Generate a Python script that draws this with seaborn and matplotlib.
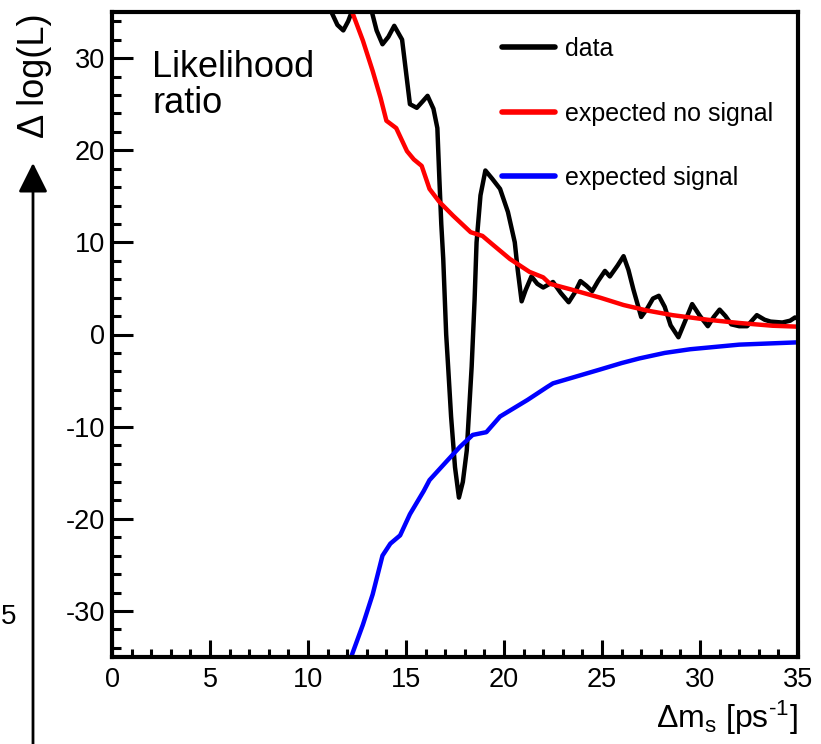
import matplotlib
matplotlib.use("Agg")
import matplotlib.pyplot as plt
from matplotlib.ticker import MultipleLocator
import seaborn as sns
import pandas as pd

# ---- data ----
data_x = [10.5, 11.15, 11.5, 11.8, 12.05, 12.3, 12.8, 13.2, 13.5, 13.8, 14.1, 14.4, 14.8,
          15.0, 15.2, 15.55, 15.85, 16.1, 16.4, 16.6, 16.7, 16.8, 16.9, 17.05, 17.15, 17.3,
          17.5, 17.7, 17.9, 18.1, 18.35, 18.5, 18.6, 18.8, 19.05, 19.4, 19.8, 20.2, 20.55,
          20.7, 20.9, 21.1, 21.4, 21.7, 22.0, 22.5, 22.9, 23.3, 23.6, 23.9, 24.2, 24.5, 24.8,
          25.15, 25.4, 25.8, 26.1, 26.35, 26.6, 27.0, 27.3, 27.6, 27.9, 28.2, 28.5, 28.9,
          29.25, 29.6, 30.0, 30.4, 30.7, 31.0, 31.3, 31.6, 32.0, 32.4, 32.9, 33.3, 33.6,
          34.2, 34.6, 34.85, 35.0]
data_y = [40.0, 35.2, 33.6, 33.0, 34.0, 35.4, 37.0, 35.5, 33.0, 31.5, 32.3, 33.5, 32.0,
          28.5, 25.0, 24.6, 25.3, 25.9, 24.5, 22.4, 17.0, 12.0, 8.2, 0.0, -3.5, -8.9,
          -14.4, -17.7, -16.0, -12.6, -3.5, 3.8, 10.0, 15.1, 17.8, 16.9, 15.8, 13.3, 10.0,
          7.0, 3.6, 4.8, 6.3, 5.5, 5.1, 5.7, 4.5, 3.5, 4.5, 5.8, 5.3, 4.7, 5.8,
          6.9, 6.3, 7.5, 8.5, 7.0, 4.9, 1.9, 2.8, 3.9, 4.2, 3.0, 1.0, -0.3,
          1.5, 3.3, 2.0, 0.9, 1.9, 2.7, 2.0, 1.1, 0.9, 0.9, 2.1, 1.6, 1.4,
          1.3, 1.5, 1.85, 1.7]

nosig_x = [11.6, 12.2, 12.8, 13.3, 13.7, 14.0, 14.5, 15.05, 15.4, 15.8, 16.2, 16.7, 17.4,
           18.3, 18.9, 19.4, 20.3, 21.3, 22.0, 22.35, 23.4, 24.9, 26.1, 27.3, 28.6, 30.4,
           32.0, 33.7, 35.0]
nosig_y = [38.5, 35.3, 31.9, 28.6, 25.7, 23.2, 22.4, 19.9, 19.0, 18.3, 15.8, 14.4, 12.9,
           11.1, 10.7, 9.8, 8.2, 6.8, 6.2, 5.5, 4.9, 4.0, 3.2, 2.6, 2.1, 1.6,
           1.25, 0.95, 0.85]

sig_x = [11.8, 12.2, 12.8, 13.3, 13.8, 14.2, 14.7, 15.2, 15.9, 16.2, 17.1, 17.75, 18.4,
         19.1, 19.8, 21.2, 22.2, 22.5, 24.9, 26.0, 26.9, 28.2, 29.5, 32.0, 35.0]
sig_y = [-38.0, -35.0, -31.5, -28.2, -24.0, -22.7, -21.8, -19.5, -17.0, -15.8, -13.7, -12.2,
         -10.9, -10.6, -8.9, -7.1, -5.7, -5.3, -3.8, -3.1, -2.6, -2.0, -1.6, -1.1, -0.85]

series_names = ["data", "expected no signal", "expected signal"]
series_colors = ["black", "#ff0000", "#0000ff"]

df = pd.concat([
    pd.DataFrame({"x": data_x, "y": data_y, "series": series_names[0]}),
    pd.DataFrame({"x": nosig_x, "y": nosig_y, "series": series_names[1]}),
    pd.DataFrame({"x": sig_x, "y": sig_y, "series": series_names[2]}),
], ignore_index=True)

sns.set_style("white")
plt.rcParams["font.family"] = ["Liberation Sans", "DejaVu Sans"]
plt.rcParams["mathtext.fontset"] = "custom"
plt.rcParams["mathtext.rm"] = "Liberation Sans"
plt.rcParams["mathtext.it"] = "Liberation Sans:italic"
plt.rcParams["axes.unicode_minus"] = False
plt.rcParams["text.color"] = "black"
plt.rcParams["axes.labelcolor"] = "black"
plt.rcParams["xtick.color"] = "black"
plt.rcParams["ytick.color"] = "black"

W, H = 821, 744
fig = plt.figure(figsize=(W / 100, H / 100), dpi=100)
ax = fig.add_axes([112 / W, 1 - 657 / H, (798 - 112) / W, (657 - 12) / H])

sns.lineplot(data=df, x="x", y="y", hue="series", hue_order=series_names,
             palette=dict(zip(series_names, series_colors)), sort=False,
             estimator=None, linewidth=3.2, ax=ax)

ax.set_xlim(0, 35)
ax.set_ylim(-35, 35)
ax.xaxis.set_major_locator(MultipleLocator(5))
ax.xaxis.set_minor_locator(MultipleLocator(1))
ax.yaxis.set_major_locator(MultipleLocator(10))
ax.yaxis.set_minor_locator(MultipleLocator(2))

ax.tick_params(axis="both", which="both", direction="in", color="black",
               labelcolor="black", bottom=True, left=True,
               top=False, right=False, width=2.2)
ax.tick_params(axis="x", which="major", length=12, labelsize=19.5, pad=7)
ax.tick_params(axis="x", which="minor", length=6)
ax.tick_params(axis="y", which="major", length=15, labelsize=19.5, pad=5)
ax.tick_params(axis="y", which="minor", length=6.5)

for sp in ax.spines.values():
    sp.set_visible(True)
    sp.set_color("black")
    sp.set_linewidth(3)

ax.set_xlabel(r"$\Delta\mathrm{m}_{\mathrm{s}}$ [ps$^{\text{-}1}$]", fontsize=23,
              loc="right", color="black")
ax.xaxis.label.set_va("center")
ax.xaxis.set_label_coords(1.0, -(718 - 657) / 645)

ax.set_ylabel("Δ log(L)", fontsize=26, loc="top", color="black")
ax.yaxis.label.set_va("center")
ax.yaxis.set_label_coords((35 - 112) / 686, 1.0 - 1 / 645)

ax.text((152 - 112) / 686, 1 - (50 - 12) / 645, "Likelihood\nratio", fontsize=26,
        ha="left", va="top", linespacing=1.05, color="black", transform=ax.transAxes)

leg = ax.legend(loc="upper left", bbox_to_anchor=(502 / W, 1 - 37 / H),
                bbox_transform=fig.transFigure, frameon=False, fontsize=18,
                handlelength=2.1, handletextpad=0.4, labelspacing=1.62,
                borderpad=0, borderaxespad=0)
for line in leg.get_lines():
    line.set_linewidth(4)
for t in leg.get_texts():
    t.set_color("black")

# fragments of neighbouring content at the left edge
ax.annotate("", xy=(33 / W, 1 - 163 / H), xytext=(33 / W, -0.01),
            xycoords="figure fraction", textcoords="figure fraction",
            arrowprops=dict(arrowstyle="-|>,head_length=0.9,head_width=0.45",
                            lw=2, color="black", mutation_scale=20,
                            shrinkA=0, shrinkB=0))
fig.text(1 / W, 1 - 617 / H, "5", fontsize=20, ha="left", va="center", color="black")

fig.savefig("out.png", dpi=100, facecolor="white")
